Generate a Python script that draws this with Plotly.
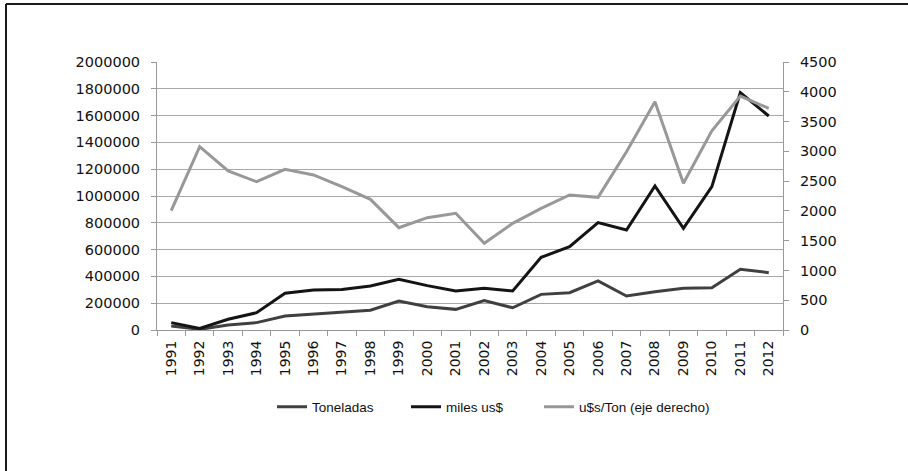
import plotly.graph_objects as go

years = [str(y) for y in range(1991, 2013)]
toneladas = [30000, 5000, 37000, 55000, 104000, 119000, 132000, 148000, 216000, 174000, 154000,
             219000, 166000, 266000, 278000, 366000, 254000, 286000, 311000, 316000, 453000, 428000]
miles_us = [55000, 12000, 80000, 129000, 274000, 298000, 303000, 328000, 378000, 331000, 291000,
            311000, 291000, 542000, 622000, 801000, 746000, 1075000, 759000, 1070000, 1771000, 1597000]
us_ton = [2003, 3078, 2670, 2490, 2698, 2603, 2406, 2194, 1718, 1886, 1959,
          1455, 1791, 2043, 2267, 2228, 2994, 3833, 2463, 3346, 3929, 3722]

left_ticks = [0, 200000, 400000, 600000, 800000, 1000000, 1200000, 1400000, 1600000, 1800000, 2000000]
right_ticks = [0, 500, 1000, 1500, 2000, 2500, 3000, 3500, 4000, 4500]

W, H = 908, 471
L, R, T, B = 157, 125, 62, 141
pw, ph = W - L - R, H - T - B

def px_x(p):
    return (p - L) / pw

def px_y(p):
    return (H - B - p) / ph

fig = go.Figure()
fig.add_trace(go.Scatter(x=years, y=toneladas, name="Toneladas", mode="lines",
                         line=dict(color="#404040", width=3), legend="legend"))
fig.add_trace(go.Scatter(x=years, y=miles_us, name="miles us$", mode="lines",
                         line=dict(color="#141414", width=3), legend="legend2"))
fig.add_trace(go.Scatter(x=years, y=us_ton, name="u$s/Ton (eje derecho)", mode="lines",
                         line=dict(color="#989898", width=3), yaxis="y2", legend="legend3"))

ytickfont = dict(family="DejaVu Sans", size=14.5, color="#111")
xtickfont = dict(family="DejaVu Sans", size=14, color="#111")
legfont = dict(family="Liberation Sans", size=13.5, color="#111")

def leg(xp):
    return dict(orientation="h", x=px_x(xp), xanchor="left", y=px_y(407), yanchor="middle",
                font=legfont, bgcolor="rgba(0,0,0,0)", borderwidth=0)

fig.update_layout(
    width=W, height=H,
    margin=dict(l=L, r=R, t=T, b=B),
    paper_bgcolor="white", plot_bgcolor="white",
    showlegend=True,
    legend=leg(272),
    legend2=leg(406),
    legend3=leg(539),
    xaxis=dict(type="category", range=[-0.5, 21.5], tickson="boundaries", ticks="outside",
               ticklen=5, tickcolor="#999", showline=True, linecolor="#999", linewidth=1,
               showgrid=False, tickangle=-90, tickfont=xtickfont, zeroline=False,
               ticklabelstandoff=4),
    yaxis=dict(range=[0, 2000000], tickvals=left_ticks, ticktext=[str(v) for v in left_ticks],
               showgrid=True, gridcolor="#a8a8a8", gridwidth=1, showline=True, linecolor="#999",
               ticks="outside", ticklen=5, tickcolor="#999", tickfont=ytickfont, zeroline=False,
               ticklabelstandoff=8),
    yaxis2=dict(range=[0, 4500], tickvals=right_ticks, ticktext=[str(v) for v in right_ticks],
                overlaying="y", side="right", showgrid=False, showline=True, linecolor="#999",
                ticks="outside", ticklen=5, tickcolor="#999", tickfont=ytickfont, zeroline=False,
                ticklabelstandoff=8),
    shapes=[
        dict(type="line", xref="paper", yref="paper", x0=px_x(6), x1=px_x(6), y0=px_y(475), y1=px_y(4),
             line=dict(color="#1a1a1a", width=2)),
        dict(type="line", xref="paper", yref="paper", x0=px_x(6), x1=px_x(912), y0=px_y(4), y1=px_y(4),
             line=dict(color="#1a1a1a", width=2)),
    ],
)

fig.write_html("out.html", config={"displayModeBar": False},
               post_script="document.body.style.margin='0';document.body.style.overflow='hidden';")
